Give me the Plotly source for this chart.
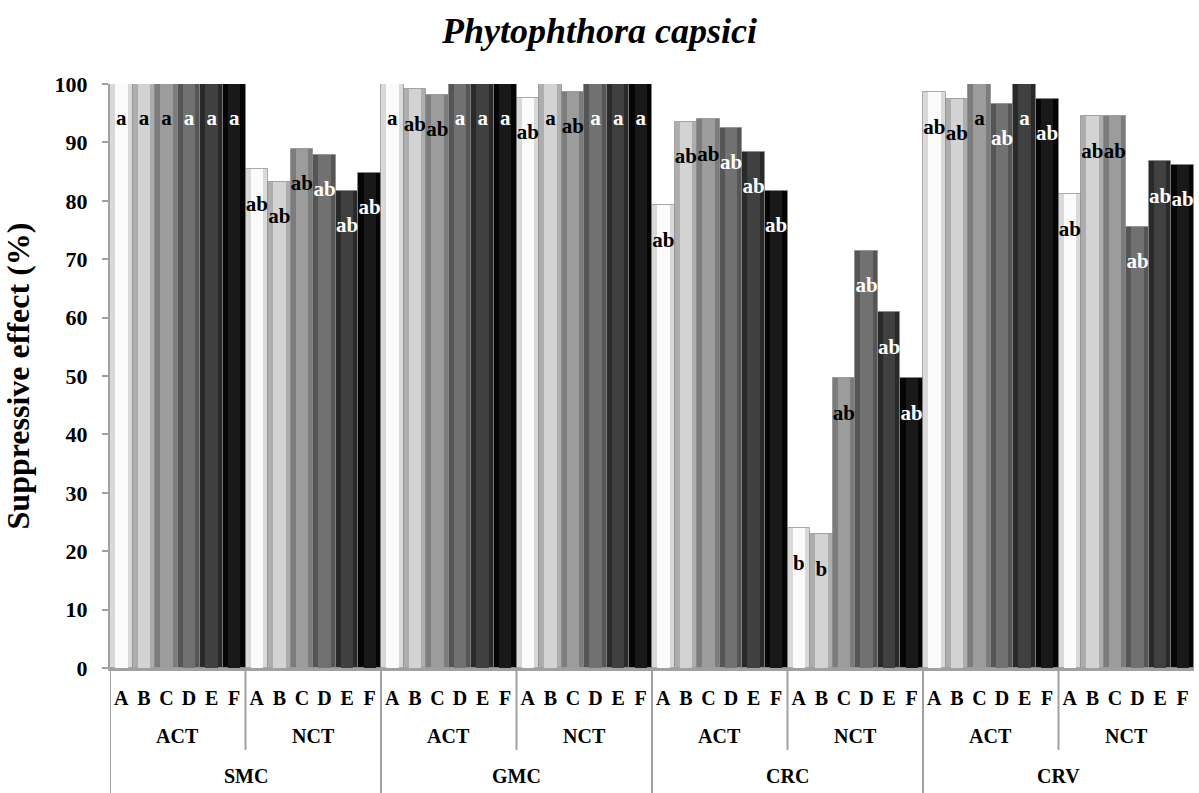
import plotly.graph_objects as go

materials = ["SMC", "GMC", "CRC", "CRV"]
methods = ["ACT", "NCT"]
treatments = ["A", "B", "C", "D", "E", "F"]

# group order: SMC-ACT, SMC-NCT, GMC-ACT, GMC-NCT, CRC-ACT, CRC-NCT, CRV-ACT, CRV-NCT
val_A = [100, 85.4, 100, 97.6, 79.2, 23.9, 98.6, 81.1]
val_B = [100, 83.3, 99.1, 100, 93.5, 22.9, 97.5, 94.5]
val_C = [100, 88.9, 98.2, 98.7, 94.0, 49.6, 100, 94.5]
val_D = [100, 87.9, 100, 100, 92.5, 71.4, 96.6, 75.6]
val_E = [100, 81.7, 100, 100, 88.4, 60.9, 100, 86.8]
val_F = [100, 84.8, 100, 100, 81.7, 49.6, 97.5, 86.2]

sig_A = ["a", "ab", "a", "ab", "ab", "b", "ab", "ab"]
sig_B = ["a", "ab", "ab", "a", "ab", "b", "ab", "ab"]
sig_C = ["a", "ab", "ab", "ab", "ab", "ab", "a", "ab"]
sig_D = ["a", "ab", "a", "a", "ab", "ab", "ab", "ab"]
sig_E = ["a", "ab", "a", "a", "ab", "ab", "a", "ab"]
sig_F = ["a", "ab", "a", "a", "ab", "ab", "ab", "ab"]

values = [val_A, val_B, val_C, val_D, val_E, val_F]
sigs = [sig_A, sig_B, sig_C, sig_D, sig_E, sig_F]

edge_colors = ["#d9d9d9", "#adadad", "#7c7c7c", "#555555", "#292929", "#050505"]
main_colors = ["#fbfbfb", "#d3d3d3", "#9c9c9c", "#717171", "#404040", "#191919"]
label_colors = ["black", "black", "black", "white", "white", "white"]

FONT = "Liberation Serif"
n_groups = len(materials) * len(methods)
n_t = len(treatments)

fig = go.Figure()
for i, t in enumerate(treatments):
    xs = [g * n_t + i for g in range(n_groups)]
    fig.add_trace(go.Bar(
        x=xs, y=values[i], width=1.0, name=t,
        marker=dict(color=edge_colors[i], line=dict(color="rgba(140,140,140,0.7)", width=1)),
        showlegend=False, hoverinfo="skip"))
    fig.add_trace(go.Bar(
        x=xs, y=values[i], width=0.55, name=t,
        marker=dict(color=main_colors[i], line=dict(width=0)),
        showlegend=False, hoverinfo="skip"))

for i, t in enumerate(treatments):
    xs = [g * n_t + i for g in range(n_groups)]
    fig.add_trace(go.Scatter(
        x=xs, y=[v - 6.2 for v in values[i]], mode="text", text=sigs[i],
        textposition="middle center",
        textfont=dict(family=FONT, size=21, color=label_colors[i], weight="bold"),
        showlegend=False, hoverinfo="skip", cliponaxis=False))

# category axis annotations and separators
def py(pix):
    return (668 - pix) / 584.0

shapes = []
annotations = []
gridc = "#a0a0a0"
for m_i, mat in enumerate(materials):
    x0 = m_i * 2 * n_t - 0.5
    shapes.append(dict(type="line", xref="x", yref="paper", x0=x0, x1=x0, y0=0, y1=py(795),
                       line=dict(color=gridc, width=2)))
    annotations.append(dict(x=x0 + n_t, y=py(776), xref="x", yref="paper", text=mat,
                            showarrow=False, yanchor="middle", xanchor="center",
                            font=dict(family=FONT, size=20, color="black", weight="bold")))
    for k, meth in enumerate(methods):
        gx0 = x0 + k * n_t
        if k > 0:
            shapes.append(dict(type="line", xref="x", yref="paper", x0=gx0, x1=gx0, y0=0, y1=py(750),
                               line=dict(color=gridc, width=2)))
        annotations.append(dict(x=gx0 + n_t / 2, y=py(736), xref="x", yref="paper", text=meth,
                                showarrow=False, yanchor="middle", xanchor="center",
                                font=dict(family=FONT, size=20, color="black", weight="bold")))

fig.update_layout(
    width=1199, height=793,
    margin=dict(l=110, r=5, t=84, b=125),
    paper_bgcolor="white", plot_bgcolor="white",
    barmode="overlay", bargap=0,
    title=dict(text="<b><i>Phytophthora capsici</i></b>", x=0.5, xref="container", xanchor="center",
               y=1 - 30 / 793, yref="container", yanchor="middle",
               font=dict(family=FONT, size=36, color="black")),
    xaxis=dict(range=[-0.5, n_groups * n_t - 0.5], tickmode="array",
               tickvals=list(range(n_groups * n_t)), ticktext=treatments * n_groups,
               ticks="", showgrid=False, zeroline=False, showline=True, linecolor=gridc, linewidth=3,
               tickfont=dict(family=FONT, size=20, color="black", weight="bold"), ticklabelstandoff=10),
    yaxis=dict(range=[0, 100], dtick=10, ticks="outside", ticklen=6, tickcolor=gridc, tickwidth=2,
               showgrid=False, zeroline=False, showline=True, linecolor=gridc, linewidth=2,
               tickfont=dict(family=FONT, size=22, color="black", weight="bold"), ticklabelstandoff=10,
               title=dict(text="Suppressive effect (%)", standoff=16,
                          font=dict(family=FONT, size=32, color="black", weight="bold"))),
    shapes=shapes, annotations=annotations,
)

fig.write_html("out.html", config={"displayModeBar": False},
               post_script="document.body.style.margin='0px';")
